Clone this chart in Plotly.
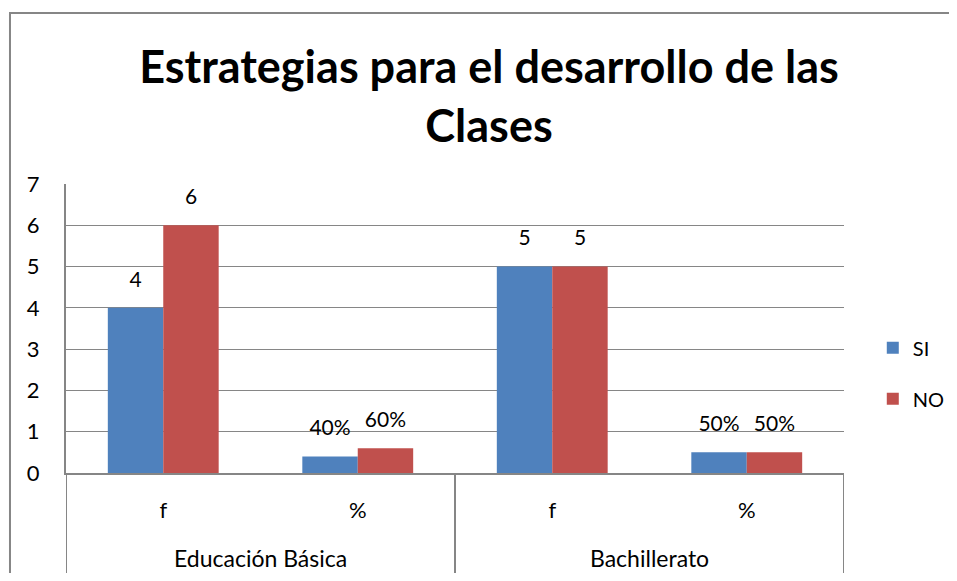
import plotly.graph_objects as go

group_names = ["Educación Básica", "Bachillerato"]
groups = ["Educación Básica", "Educación Básica", "Bachillerato", "Bachillerato"]
measures = ["f", "%", "f", "%"]
si_values = [4, 0.4, 5, 0.5]
no_values = [6, 0.6, 5, 0.5]
si_labels = ["4", "40%", "5", "50%"]
no_labels = ["6", "60%", "5", "50%"]

FONT = "Lato"
GRID = "#868686"
W, H = 941, 565   # page body adds an 8px margin on each side

cat_ids = [f"{g}|{m}" for g, m in zip(groups, measures)]

fig = go.Figure()
fig.add_trace(go.Bar(
    name="SI", x=cat_ids, y=si_values,
    marker=dict(color="#4F81BD", line=dict(width=0)), legendgroup="SI",
))
fig.add_trace(go.Bar(
    name="NO", x=cat_ids, y=no_values,
    marker=dict(color="#C0504D", line=dict(width=0)), legendgroup="NO",
))
for vals, labs in ((si_values, si_labels), (no_values, no_labels)):
    fig.add_trace(go.Scatter(
        x=cat_ids, y=vals, text=labs, mode="markers+text", textposition="top center",
        marker=dict(size=24, opacity=0, color="white"),
        textfont=dict(family=FONT, size=21, color="black"),
        showlegend=False, hoverinfo="skip", cliponaxis=False,
    ))

fig.update_layout(
    width=W, height=H,
    margin=dict(l=58, r=W - 836, t=176, b=H - 465, autoexpand=False),
    paper_bgcolor="white", plot_bgcolor="white",
    font=dict(family=FONT, size=20, color="black"),
    barmode="group", bargap=0.43, bargroupgap=0,
    scattermode="group", scattergap=0.43,
    title=dict(
        text="<b>Estrategias para el desarrollo de las<br>Clases</b>",
        x=481 / W, xanchor="center", xref="container",
        y=1 - 75 / H, yanchor="top", yref="container",
        font=dict(family=FONT, size=45, color="black"),
    ),
    legend=dict(
        x=1.037, xanchor="left", y=0.345, yanchor="middle",
        font=dict(family=FONT, size=20), traceorder="grouped",
        tracegroupgap=22, itemwidth=30,
    ),
    showlegend=True,
)
fig.update_yaxes(
    range=[0, 7], dtick=1, showgrid=True, gridcolor=GRID, gridwidth=1,
    showline=True, linecolor=GRID, linewidth=2, ticks="",
    ticklabelstandoff=20, zeroline=False, automargin=False,
    tickfont=dict(family=FONT, size=22),
)
fig.update_xaxes(
    type="category", range=[-0.5, len(cat_ids) - 0.5],
    tickvals=cat_ids, ticktext=measures,
    showline=True, linecolor=GRID, linewidth=2, showgrid=False,
    ticks="", ticklabelstandoff=17, automargin=False,
    tickfont=dict(family=FONT, size=22),
)

n_per_group = 2
for gi, gname in enumerate(group_names):
    center = gi * n_per_group + (n_per_group - 1) / 2
    fig.add_annotation(
        x=center, xref="x", y=-0.294, yref="paper", text=gname,
        showarrow=False, yanchor="middle", font=dict(family=FONT, size=23, color="black"),
    )
for b in range(len(group_names) + 1):
    pos = b * n_per_group - 0.5
    fig.add_shape(
        type="line", xref="x", yref="paper", x0=pos, x1=pos, y0=0, y1=-0.353,
        line=dict(color=GRID, width=2),
    )

# outer chart frame (left and top edges visible)
fig.add_shape(
    type="path", xref="paper", yref="paper",
    path="M -0.072 -1 L -0.072 1.592 L 2 1.592",
    line=dict(color=GRID, width=2), layer="below",
)

fig.write_html("out.html")
